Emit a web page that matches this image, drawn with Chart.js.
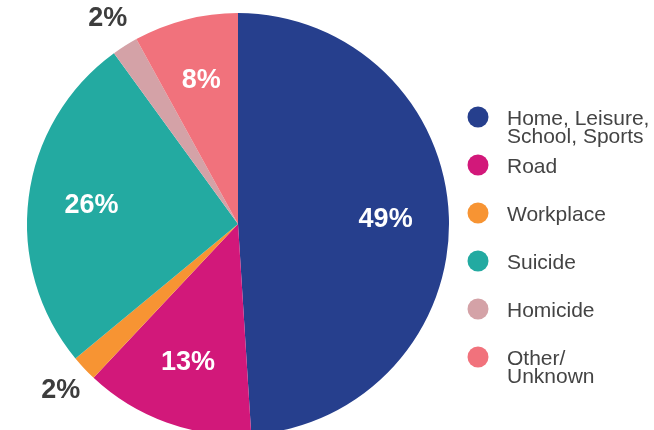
<!DOCTYPE html>
<html>
<head>
<meta charset="utf-8">
<script src="https://cdn.jsdelivr.net/npm/chart.js@4.4.1/dist/chart.umd.min.js"></script>
<style>
  html, body { margin: 0; padding: 0; background: #ffffff; overflow: hidden; }
  #wrap { position: relative; width: 654px; height: 430px; }
</style>
</head>
<body>
<div id="wrap"><canvas id="pie" width="654" height="430"></canvas></div>
<script>
// Injury deaths by setting, share of total (%)
const categories = [
  ["Home, Leisure,", "School, Sports"],
  ["Road"],
  ["Workplace"],
  ["Suicide"],
  ["Homicide"],
  ["Other/", "Unknown"]
];
const shares = [49, 13, 2, 26, 2, 8];
const sliceColors = ["#263f8d", "#d2187a", "#f79433", "#23aaa1", "#d4a2a7", "#f1727c"];

const FONT = "'Liberation Sans', Arial, Helvetica, sans-serif";

// Percent labels: inside large slices, outside the rim for small ones
const sliceLabels = {
  id: "sliceLabels",
  afterDatasetsDraw(chart) {
    const ctx = chart.ctx;
    const meta = chart.getDatasetMeta(0);
    const values = chart.data.datasets[0].data;
    ctx.save();
    ctx.textAlign = "center";
    ctx.textBaseline = "middle";
    ctx.font = "bold 27px " + FONT;
    meta.data.forEach((arc, i) => {
      const p = arc.getProps(["x", "y", "startAngle", "endAngle", "outerRadius"], true);
      const mid = (p.startAngle + p.endAngle) / 2;
      const small = values[i] < 5;
      const dist = small ? p.outerRadius + 32 : p.outerRadius * 0.7;
      const x = p.x + Math.cos(mid) * dist;
      const y = p.y + Math.sin(mid) * dist;
      ctx.fillStyle = small ? "#3d3d3d" : "#ffffff";
      ctx.fillText(values[i] + "%", x, y);
    });
    ctx.restore();
  }
};

// Legend with round markers and wrapped category names
const sideLegend = {
  id: "sideLegend",
  afterDraw(chart) {
    const ctx = chart.ctx;
    const labels = chart.data.labels;
    const colors = chart.data.datasets[0].backgroundColor;
    const x0 = 478, y0 = 117, step = 48;
    ctx.save();
    ctx.font = "21px " + FONT;
    ctx.textAlign = "left";
    ctx.textBaseline = "alphabetic";
    labels.forEach((lines, i) => {
      const cy = y0 + i * step;
      ctx.beginPath();
      ctx.arc(x0, cy, 10.5, 0, Math.PI * 2);
      ctx.fillStyle = colors[i];
      ctx.fill();
      ctx.fillStyle = "#444444";
      lines.forEach((t, k) => ctx.fillText(t, 507, cy + 8 + k * 17.5));
    });
    ctx.restore();
  }
};

new Chart(document.getElementById("pie"), {
  type: "pie",
  data: {
    labels: categories,
    datasets: [{
      data: shares,
      backgroundColor: sliceColors,
      borderWidth: 0
    }]
  },
  options: {
    responsive: false,
    animation: false,
    radius: 211,
    layout: { padding: { top: 18, bottom: 0, left: 27, right: 205 } },
    plugins: {
      legend: { display: false },
      tooltip: { enabled: false }
    }
  },
  plugins: [sliceLabels, sideLegend]
});
</script>
</body>
</html>
